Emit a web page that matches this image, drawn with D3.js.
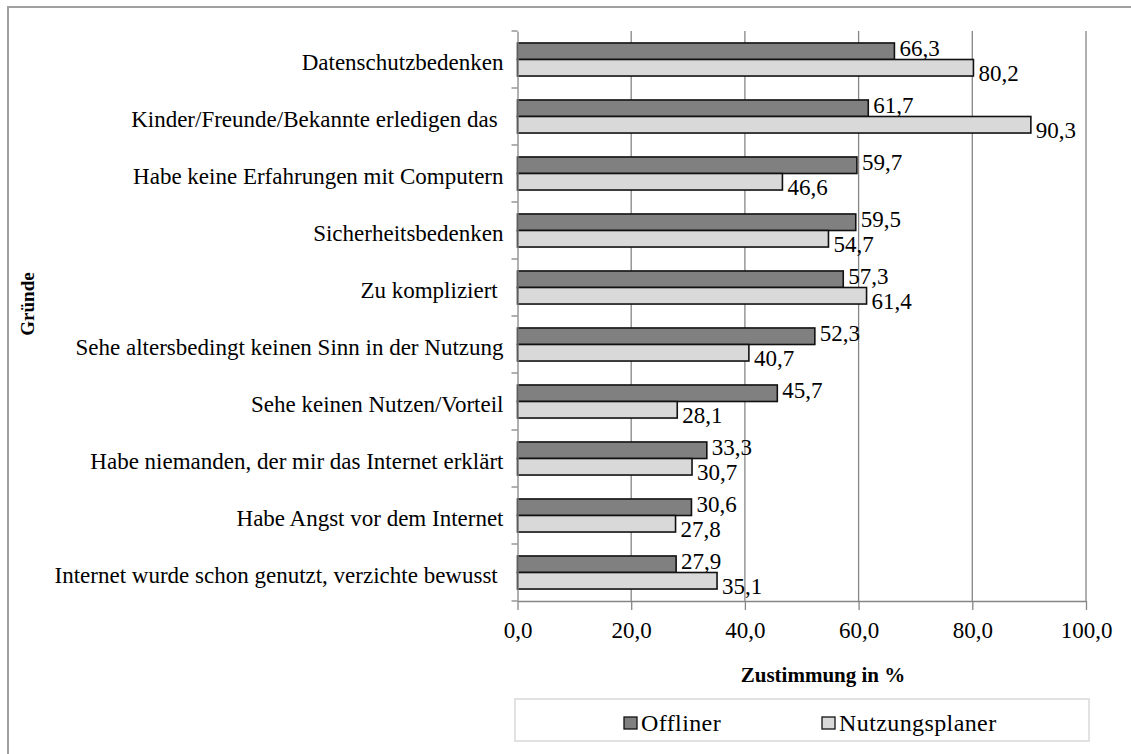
<!DOCTYPE html>
<html>
<head>
<meta charset="utf-8">
<script src="https://cdn.jsdelivr.net/npm/d3@7"></script>
<style>
	body { margin: 0; background: #fff; }
	svg text { font-family: "Liberation Serif", "DejaVu Serif", serif !important; white-space: pre; }
</style>
</head>
<body>
<script>
let categories = [
	"Datenschutzbedenken",
	"Kinder/Freunde/Bekannte erledigen das ",
	"Habe keine Erfahrungen mit Computern",
	"Sicherheitsbedenken",
	"Zu kompliziert ",
	"Sehe altersbedingt keinen Sinn in der Nutzung",
	"Sehe keinen Nutzen/Vorteil",
	"Habe niemanden, der mir das Internet erklärt",
	"Habe Angst vor dem Internet",
	"Internet wurde schon genutzt, verzichte bewusst "
];
let offliner = [66.3, 61.7, 59.7, 59.5, 57.3, 52.3, 45.7, 33.3, 30.6, 27.9];
let nutzungsplaner = [80.2, 90.3, 46.6, 54.7, 61.4, 40.7, 28.1, 30.7, 27.8, 35.1];
let seriesNames = ["Offliner", "Nutzungsplaner"];
let xTicks = [0, 20, 40, 60, 80, 100];

function drawBarChart(){
	let width = 1131;
	let height = 754;
	let left = 517.5;
	let right = 1086;
	let top = 31;
	let bottom = 601;
	let colors = ["#808080", "#d9d9d9"];
	let fmt = (v) => d3.format(".1f")(v).replace(".", ",");

	let series = [offliner, nutzungsplaner];

	let xScale = d3.scaleLinear()
					.domain([0, 100])
					.range([left, right]);

	let yScale = d3.scaleBand()
					.domain(categories)
					.range([top, bottom])
					.paddingInner(0.42)
					.paddingOuter(0.21);

	let subScale = d3.scaleBand()
					.domain(d3.range(series.length))
					.range([0, yScale.bandwidth()]);

	let svg = d3.select("body").append("svg").attr("width", width).attr("height", height);

	// outer chart border (only top/left visible)
	svg.append("rect")
		.attr("x", 8).attr("y", 7)
		.attr("width", width + 20).attr("height", height + 20)
		.attr("fill", "none")
		.attr("stroke", "#a0a0a0")
		.attr("stroke-width", 2);

	// gridlines
	svg.append("g")
		.selectAll("line")
		.data(xTicks.filter((d) => d > 0))
		.enter()
		.append("line")
		.attr("x1", (d) => xScale(d)).attr("x2", (d) => xScale(d))
		.attr("y1", top).attr("y2", bottom)
		.attr("stroke", "#868686")
		.attr("stroke-width", 1.3);

	// bars
	let groups = svg.selectAll(".cat")
		.data(categories)
		.enter()
		.append("g")
		.attr("class", "cat")
		.attr("transform", (d) => `translate(0,${yScale(d)})`);

	series.forEach((vals, s) => {
		groups.append("rect")
			.attr("x", xScale(0))
			.attr("y", subScale(s))
			.attr("width", (d, i) => xScale(vals[i]) - xScale(0))
			.attr("height", subScale.bandwidth())
			.attr("fill", colors[s])
			.attr("stroke", "#111")
			.attr("stroke-width", 1.6);

		groups.append("text")
			.attr("x", (d, i) => xScale(vals[i]) + 5)
			.attr("y", subScale(s) + subScale.bandwidth() / 2 + (s === 0 ? -3 : 6))
			.attr("dominant-baseline", "central")
			.attr("font-size", 23)
			.attr("fill", "#000")
			.text((d, i) => fmt(vals[i]));
	});

	// y axis
	let yAxis = d3.axisLeft(yScale)
				  .tickSize(0)
				  .tickPadding(14)
				  .tickSizeOuter(0);

	let gy = svg.append("g")
		.attr("transform", `translate(${left},0)`)
		.call(yAxis);
	gy.select(".domain").attr("stroke", "#868686").attr("stroke-width", 1.3);
	gy.selectAll(".tick text")
		.attr("font-size", 23)
		.attr("fill", "#000")
		.attr("dy", "0.45em");

	// category boundary ticks
	let boundaries = d3.range(categories.length + 1).map((i) => top + i * yScale.step());
	svg.append("g")
		.selectAll("line")
		.data(boundaries)
		.enter()
		.append("line")
		.attr("x1", left - 6).attr("x2", left)
		.attr("y1", (d) => d).attr("y2", (d) => d)
		.attr("stroke", "#868686")
		.attr("stroke-width", 1.3);

	// x axis
	let xAxis = d3.axisBottom(xScale)
				  .tickValues(xTicks)
				  .tickFormat(fmt)
				  .tickSize(9)
				  .tickSizeOuter(0)
				  .tickPadding(12);

	let gx = svg.append("g")
		.attr("transform", `translate(0,${bottom})`)
		.call(xAxis);
	gx.select(".domain").attr("stroke", "#868686").attr("stroke-width", 1.3);
	gx.selectAll(".tick line").attr("stroke", "#868686").attr("stroke-width", 1.3);
	gx.selectAll(".tick text")
		.attr("font-size", 23)
		.attr("fill", "#000");

	// axis titles
	svg.append("text")
		.attr("x", 823).attr("y", 682)
		.attr("text-anchor", "middle")
		.attr("font-size", 21)
		.attr("font-weight", "bold")
		.text("Zustimmung in %");

	svg.append("text")
		.attr("transform", "translate(34,304) rotate(-90)")
		.attr("text-anchor", "middle")
		.attr("font-size", 19)
		.attr("font-weight", "bold")
		.text("Gründe");

	// legend
	svg.append("rect")
		.attr("x", 515).attr("y", 699)
		.attr("width", 574).attr("height", 42)
		.attr("fill", "#fff")
		.attr("stroke", "#d9d9d9")
		.attr("stroke-width", 1.5);

	let legendX = [624, 822];
	let lg = svg.selectAll(".legend")
		.data(seriesNames)
		.enter()
		.append("g")
		.attr("class", "legend")
		.attr("transform", (d, i) => `translate(${legendX[i]},717)`);
	lg.append("rect")
		.attr("width", 13).attr("height", 12)
		.attr("fill", (d, i) => colors[i])
		.attr("stroke", "#111")
		.attr("stroke-width", 1.3);
	lg.append("text")
		.attr("x", 17).attr("y", 14)
		.attr("font-size", 24)
		.attr("letter-spacing", 0.4)
		.text((d) => d);
}

drawBarChart();
</script>
</body>
</html>
